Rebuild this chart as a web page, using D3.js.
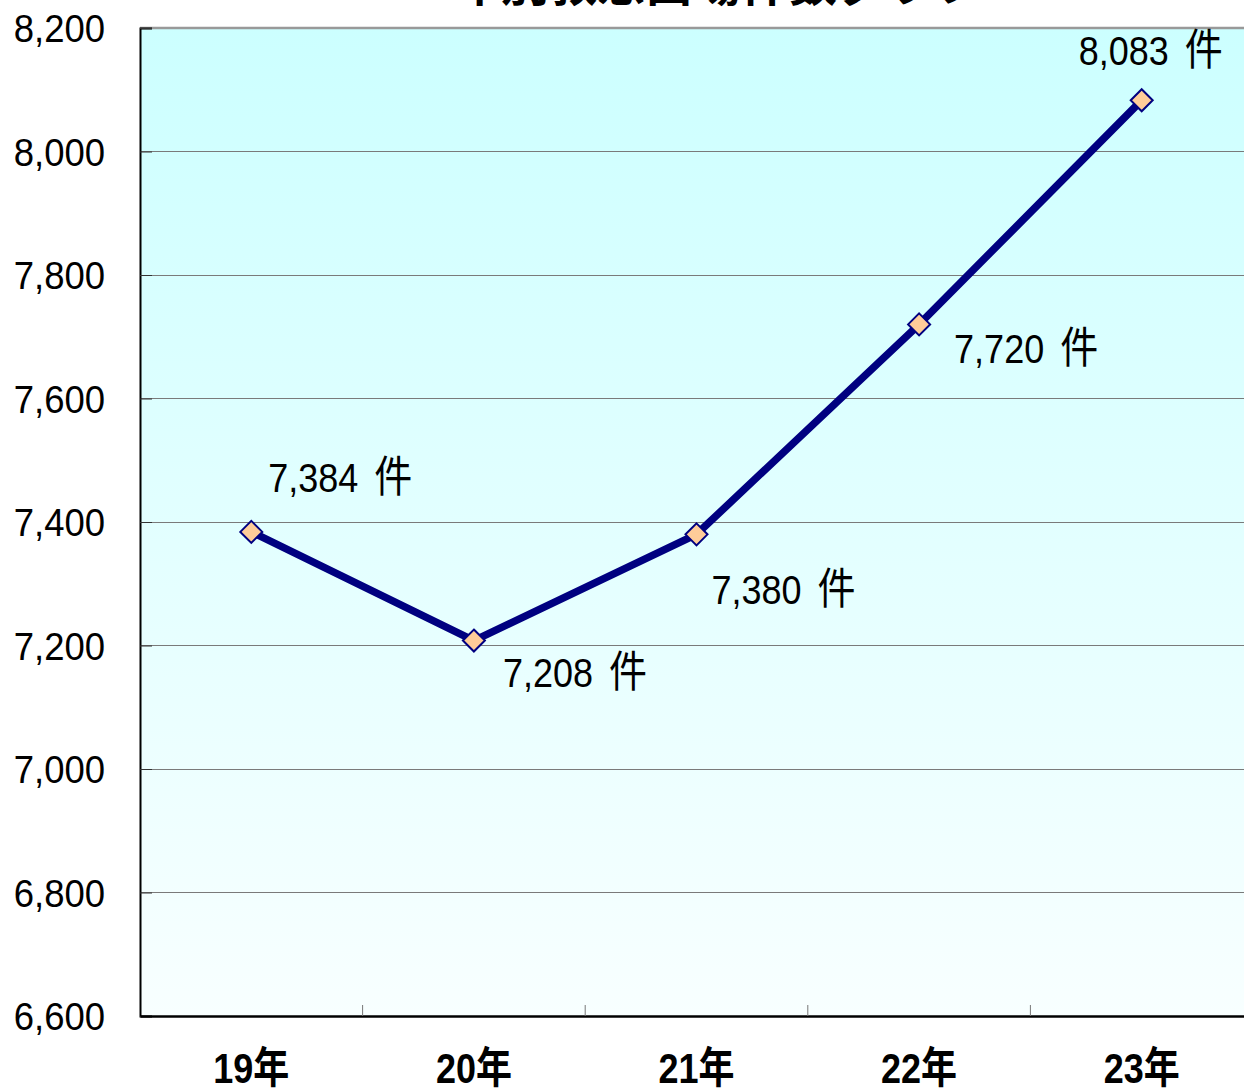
<!DOCTYPE html>
<html><head><meta charset="utf-8">
<script src="https://cdn.jsdelivr.net/npm/d3@7"></script>
<style>html,body{margin:0;padding:0;background:#fff;overflow:hidden}</style>
</head><body>
<svg id="c" width="1244" height="1088"></svg>
<script>
const title = "年別救急出場件数グラフ";
const categories = ["19年","20年","21年","22年","23年"];
const values = [7384, 7208, 7380, 7720, 8083];
const yTicks = [6600,6800,7000,7200,7400,7600,7800,8000,8200];
const unit = "件";
// label offsets (layout only)
const labelDx = [17, 29, 15, 35, -63];
const labelDy = [-40, 46, 70, 39, -35];

const svg = d3.select("#c");
const L = 140, R = 1253, T = 28, B = 1016;
const x = d3.scaleBand().domain(categories).range([L, R]);
const y = d3.scaleLinear().domain([6600, 8200]).range([B, T]);
const fontLatin = "'Liberation Sans', Arial, 'Noto Sans CJK JP', sans-serif";

const defs = svg.append("defs");
const g = defs.append("linearGradient").attr("id","bg").attr("x1",0).attr("y1",0).attr("x2",0).attr("y2",1);
g.append("stop").attr("offset","0%").attr("stop-color","#ccffff");
g.append("stop").attr("offset","100%").attr("stop-color","#f8ffff");

svg.append("rect").attr("x",L).attr("y",T).attr("width",R-L).attr("height",B-T).attr("fill","url(#bg)");

// gridlines
svg.append("g").selectAll("line").data(yTicks.slice(1,-1)).join("line")
  .attr("x1",L).attr("x2",R).attr("y1",d=>y(d)).attr("y2",d=>y(d))
  .attr("stroke","#7a7a7a").attr("stroke-width",1).attr("shape-rendering","crispEdges");
// top border
svg.append("line").attr("x1",L).attr("x2",R).attr("y1",T).attr("y2",T)
  .attr("stroke","#999").attr("stroke-width",2.5);

// y axis
const yAxis = svg.append("g").attr("transform",`translate(${L},0)`)
  .call(d3.axisRight(y).tickValues(yTicks).tickSize(12).tickFormat(""));
yAxis.select(".domain").attr("stroke","#000").attr("stroke-width",2);
yAxis.selectAll(".tick line").attr("stroke","#333").attr("stroke-width",1);
svg.append("g").selectAll("text").data(yTicks).join("text")
  .attr("transform",d=>`translate(105,${y(d)+14}) scale(1,1.08)`)
  .attr("text-anchor","end").attr("font-family",fontLatin).attr("font-size",36.5).attr("fill","#000")
  .text(d=>d3.format(",")(d));

// x axis
const xAxis = svg.append("g").attr("transform",`translate(0,${B})`)
  .call(d3.axisTop(x).tickSize(0).tickFormat(""));
xAxis.select(".domain").attr("stroke","#000").attr("stroke-width",2.5);
svg.append("g").selectAll("line").data(categories.slice(1)).join("line")
  .attr("x1",d=>x(d)).attr("x2",d=>x(d)).attr("y1",B).attr("y2",B-11)
  .attr("stroke","#777").attr("stroke-width",1);
svg.append("g").selectAll("text").data(categories).join("text")
  .attr("transform",d=>`translate(${x(d)+x.bandwidth()/2},1083) scale(1,1.2)`)
  .attr("text-anchor","middle").attr("font-family",fontLatin).attr("font-weight","bold")
  .attr("font-size",36).attr("fill","#000").text(d=>d);

// line
const cx = (d,i)=>x(categories[i])+x.bandwidth()/2;
svg.append("path").datum(values)
  .attr("d", d3.line().x((d,i)=>cx(d,i)).y(d=>y(d)))
  .attr("fill","none").attr("stroke","#000080").attr("stroke-width",7.5).attr("stroke-linejoin","round");

// markers
const s = 11;
svg.append("g").selectAll("path").data(values).join("path")
  .attr("transform",(d,i)=>`translate(${cx(d,i)},${y(d)})`)
  .attr("d",`M0,${-s}L${s},0L0,${s}L${-s},0Z`)
  .attr("fill","#ffcc99").attr("stroke","#000080").attr("stroke-width",2);

// data labels
const lab = svg.append("g").selectAll("text").data(values).join("text")
  .attr("transform",(d,i)=>`translate(${cx(d,i)+labelDx[i]},${y(d)+labelDy[i]}) scale(1,1.15)`)
  .attr("font-family",fontLatin).attr("font-size",36).attr("fill","#000");
lab.append("tspan").text(d=>d3.format(",")(d));
lab.append("tspan").attr("dx",16).attr("font-size",38)
  .attr("font-family","'Noto Sans CJK JP', sans-serif").text(unit);

// title (cut off at top)
svg.append("text").attr("x",717).attr("y",1).attr("text-anchor","middle")
  .attr("font-family","'Noto Sans CJK JP', sans-serif").attr("font-weight","bold")
  .attr("font-size",48).attr("fill","#000").text(title);
</script>
</body></html>
